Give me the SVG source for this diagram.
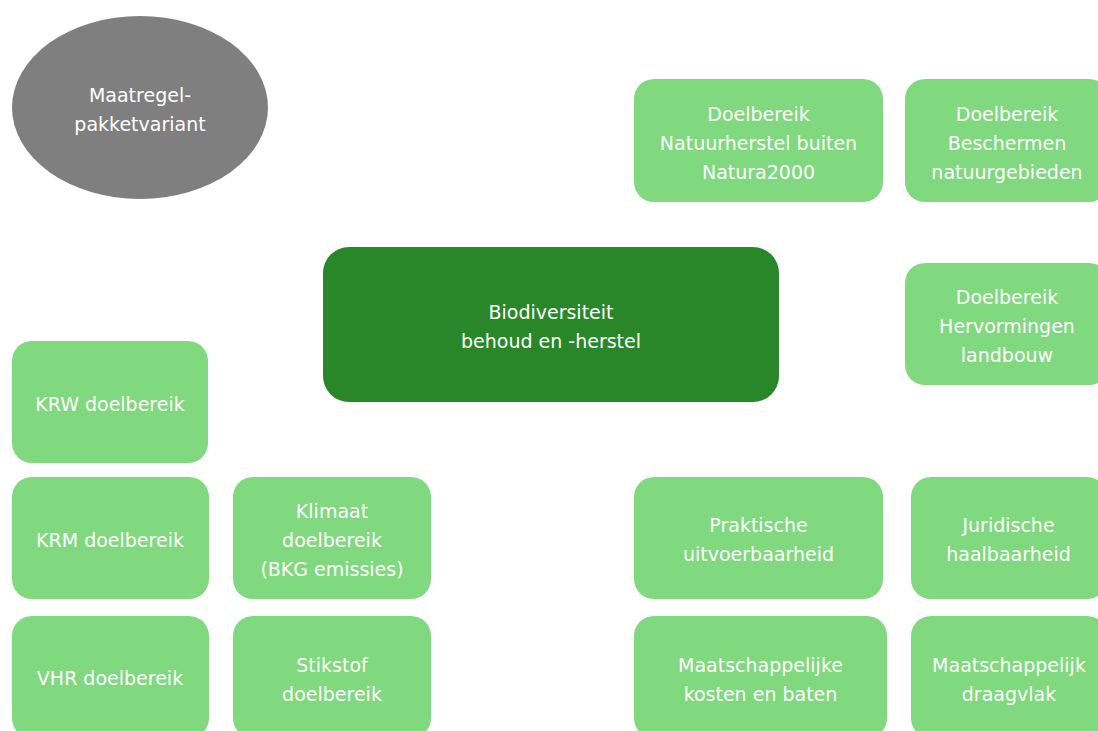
<svg xmlns="http://www.w3.org/2000/svg" width="1098" height="731" viewBox="0 0 1098 731">
<style>
.n{fill:#80d97e}
.c{fill:#29872a}
.t{font-family:"DejaVu Sans",Verdana,sans-serif;font-size:19px;fill:#ffffff;text-anchor:middle}
</style>
<rect width="1098" height="731" fill="#ffffff"/>
<g id="connectors"></g>
<g id="maatregel">
<ellipse cx="140" cy="107.5" rx="128" ry="91.5" fill="#7f7f7f"/>
<text class="t" x="140" y="102">Maatregel-</text>
<text class="t" x="140" y="131">pakketvariant</text>
</g>
<g id="natuurherstel">
<rect class="n" x="634" y="79" width="249" height="123" rx="20"/>
<text class="t" x="758.5" y="120.5">Doelbereik</text>
<text class="t" x="758.5" y="149.5">Natuurherstel buiten</text>
<text class="t" x="758.5" y="178.5">Natura2000</text>
</g>
<g id="beschermen">
<rect class="n" x="905" y="79" width="204" height="123" rx="20"/>
<text class="t" x="1007" y="120.5">Doelbereik</text>
<text class="t" x="1007" y="149.5">Beschermen</text>
<text class="t" x="1007" y="178.5">natuurgebieden</text>
</g>
<g id="hervormingen">
<rect class="n" x="905" y="263" width="204" height="122" rx="20"/>
<text class="t" x="1007" y="304">Doelbereik</text>
<text class="t" x="1007" y="333">Hervormingen</text>
<text class="t" x="1007" y="362">landbouw</text>
</g>
<g id="biodiversiteit">
<rect class="c" x="323" y="247" width="456" height="155" rx="26"/>
<text class="t" x="551" y="319">Biodiversiteit</text>
<text class="t" x="551" y="348">behoud en -herstel</text>
</g>
<g id="krw">
<rect class="n" x="12" y="341" width="196" height="122" rx="20"/>
<text class="t" x="110" y="411">KRW doelbereik</text>
</g>
<g id="krm">
<rect class="n" x="12" y="477" width="197" height="122" rx="20"/>
<text class="t" x="110" y="547">KRM doelbereik</text>
</g>
<g id="klimaat">
<rect class="n" x="233" y="477" width="198" height="122" rx="20"/>
<text class="t" x="332" y="518">Klimaat</text>
<text class="t" x="332" y="547">doelbereik</text>
<text class="t" x="332" y="576">(BKG emissies)</text>
</g>
<g id="vhr">
<rect class="n" x="12" y="616" width="197" height="122" rx="20"/>
<text class="t" x="110" y="685">VHR doelbereik</text>
</g>
<g id="stikstof">
<rect class="n" x="233" y="616" width="198" height="122" rx="20"/>
<text class="t" x="332" y="671.5">Stikstof</text>
<text class="t" x="332" y="700.5">doelbereik</text>
</g>
<g id="praktische">
<rect class="n" x="634" y="477" width="249" height="122" rx="20"/>
<text class="t" x="758.5" y="532">Praktische</text>
<text class="t" x="758.5" y="561">uitvoerbaarheid</text>
</g>
<g id="juridische">
<rect class="n" x="911" y="477" width="196" height="122" rx="20"/>
<text class="t" x="1008.5" y="532">Juridische</text>
<text class="t" x="1008.5" y="561">haalbaarheid</text>
</g>
<g id="kosten">
<rect class="n" x="634" y="616" width="253" height="122" rx="20"/>
<text class="t" x="760.5" y="671.5">Maatschappelijke</text>
<text class="t" x="760.5" y="700.5">kosten en baten</text>
</g>
<g id="draagvlak">
<rect class="n" x="911" y="616" width="196" height="122" rx="20"/>
<text class="t" x="1009" y="671.5">Maatschappelijk</text>
<text class="t" x="1009" y="700.5">draagvlak</text>
</g>
</svg>
